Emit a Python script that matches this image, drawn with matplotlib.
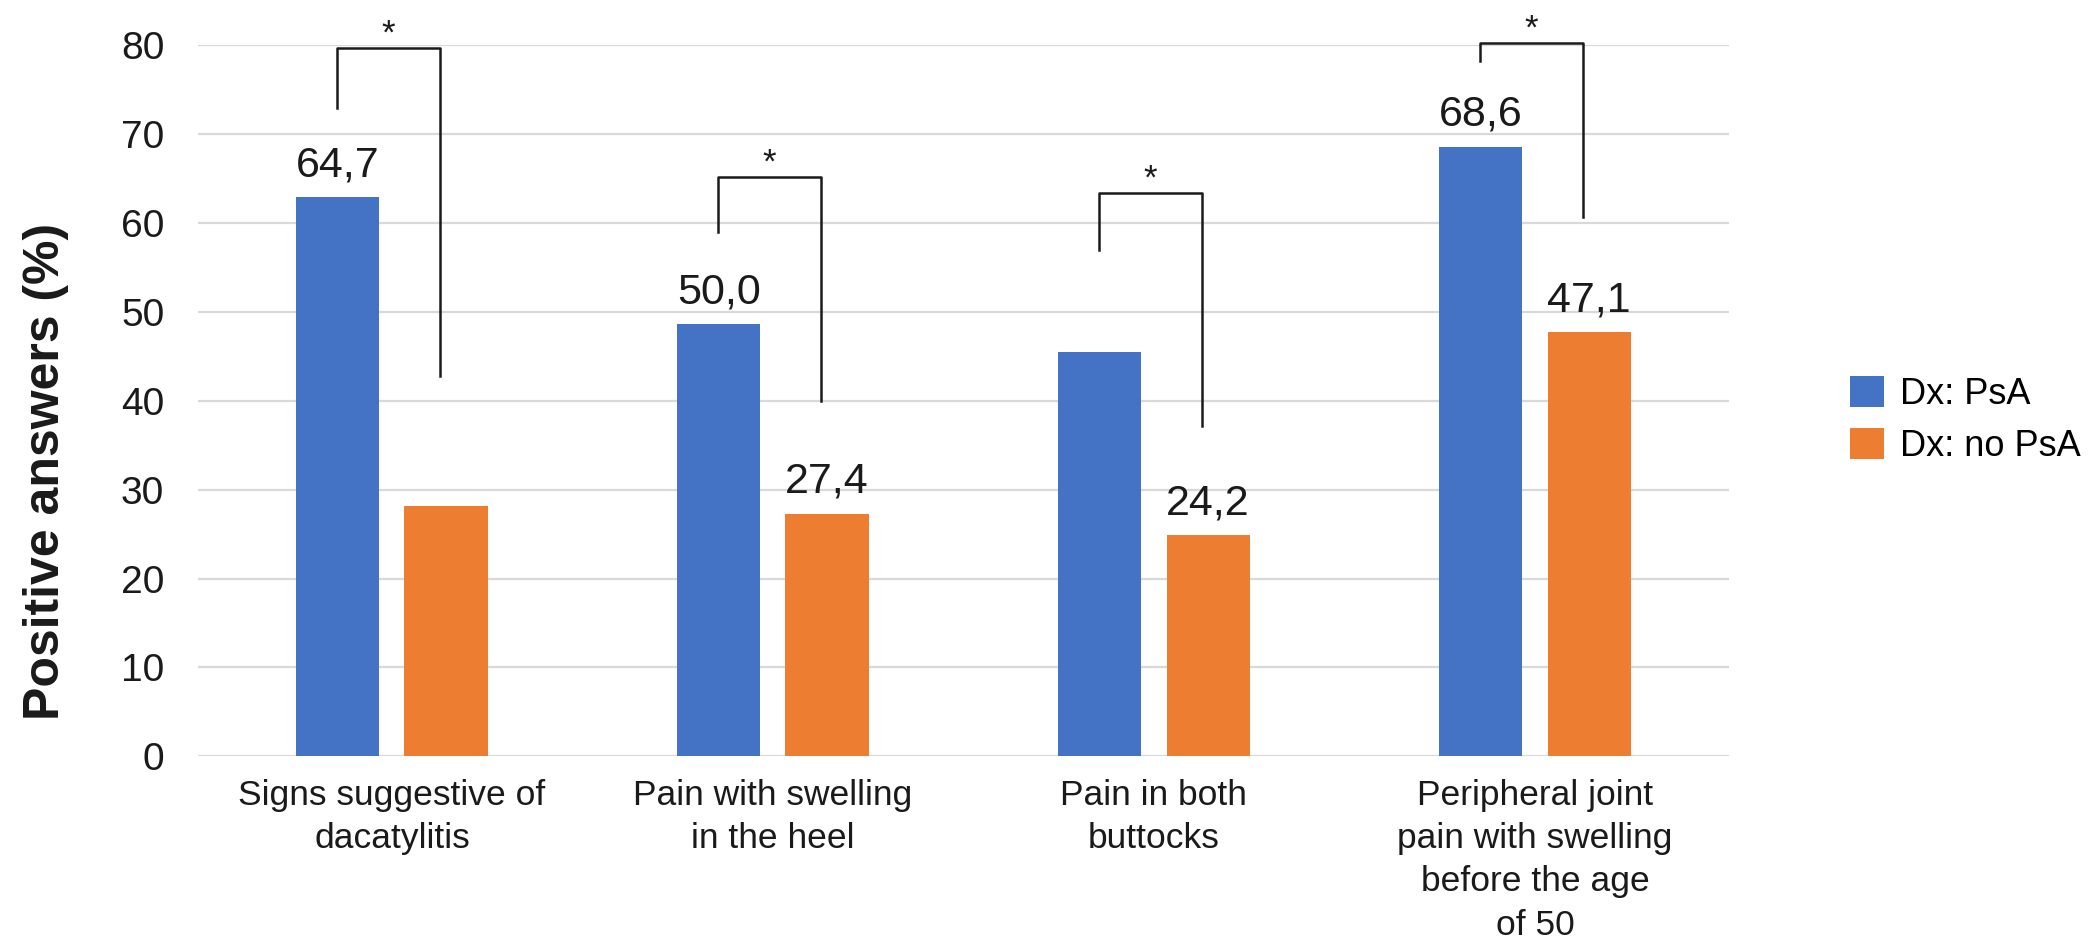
import numpy as np
import matplotlib.pyplot as plt

# categorias y valores
categorias = ["Signs suggestive of\ndacatylitis",
              "Pain with swelling\nin the heel",
              "Pain in both\nbuttocks",
              "Peripheral joint\npain with swelling\nbefore the age\nof 50"]
psa = [62.9, 48.6, 45.5, 68.6]
no_psa = [28.2, 27.3, 24.9, 47.7]
etiquetas_psa = ["64,7", "50,0", "", "68,6"]
etiquetas_no_psa = ["", "27,4", "24,2", "47,1"]

# corchetes de significancia: altura de la barra horizontal y de los extremos
corchete_arriba = [79.7, 65.2, 63.4, 80.3]
corchete_izq = [72.9, 59.0, 57.0, 78.2]
corchete_der = [42.8, 40.0, 37.2, 60.7]

azul = "#4472C4"
naranja = "#ED7D31"
negro = "#1a1a1a"

plt.rcParams['font.family'] = ['Liberation Sans', 'DejaVu Sans']

fig = plt.figure(figsize=(20.91, 9.43), dpi=100)
ax = fig.add_axes([0.0945, 0.198, 0.7325, 0.754])

x = np.arange(len(categorias))
ancho = 0.218
sep = 0.142

b1 = ax.bar(x - sep, psa, ancho, color=azul, label="Dx: PsA", zorder=3)
b2 = ax.bar(x + sep, no_psa, ancho, color=naranja, label="Dx: no PsA", zorder=3)

for barras, etiquetas in [(b1, etiquetas_psa), (b2, etiquetas_no_psa)]:
    for barra, txt in zip(barras, etiquetas):
        if txt:
            ax.annotate(txt, (barra.get_x() + barra.get_width() / 2, barra.get_height()),
                        xytext=(0, 15), textcoords="offset points",
                        ha="center", va="baseline", fontsize=31, color=negro)

for i in range(len(categorias)):
    xi = i - 0.145
    xd = i + 0.125
    ax.plot([xi, xi, xd, xd], [corchete_izq[i], corchete_arriba[i], corchete_arriba[i], corchete_der[i]],
            color=negro, lw=1.8, clip_on=False, zorder=4)
    ax.annotate("*", ((xi + xd) / 2, corchete_arriba[i]), xytext=(0, 3), textcoords="offset points",
                ha="center", va="baseline", fontsize=25, color=negro, annotation_clip=False)

ax.set_xlim(-0.51, 3.51)
ax.set_ylim(0, 80)
ax.set_yticks(range(0, 81, 10))
ax.set_xticks(x)
ax.set_xticklabels(categorias, fontsize=25.5, color=negro, linespacing=1.4)
ax.tick_params(axis="y", labelsize=28, length=0, pad=24, colors=negro)
ax.tick_params(axis="x", length=0, pad=16)
ax.yaxis.grid(True, color="#D9D9D9", lw=1.6, zorder=0)
ax.set_axisbelow(True)
for s in ax.spines.values():
    s.set_visible(False)

ax.set_ylabel("Positive answers (%)", fontsize=36, fontweight="bold", color=negro)
ax.yaxis.set_label_coords(-0.084, 0.4)

fig.legend(loc="center left", bbox_to_anchor=(0.869, 0.555), frameon=False,
           fontsize=26, handlelength=0.95, handleheight=0.95, handletextpad=0.45,
           labelspacing=0.45)

fig.savefig("out.png", dpi=100)
